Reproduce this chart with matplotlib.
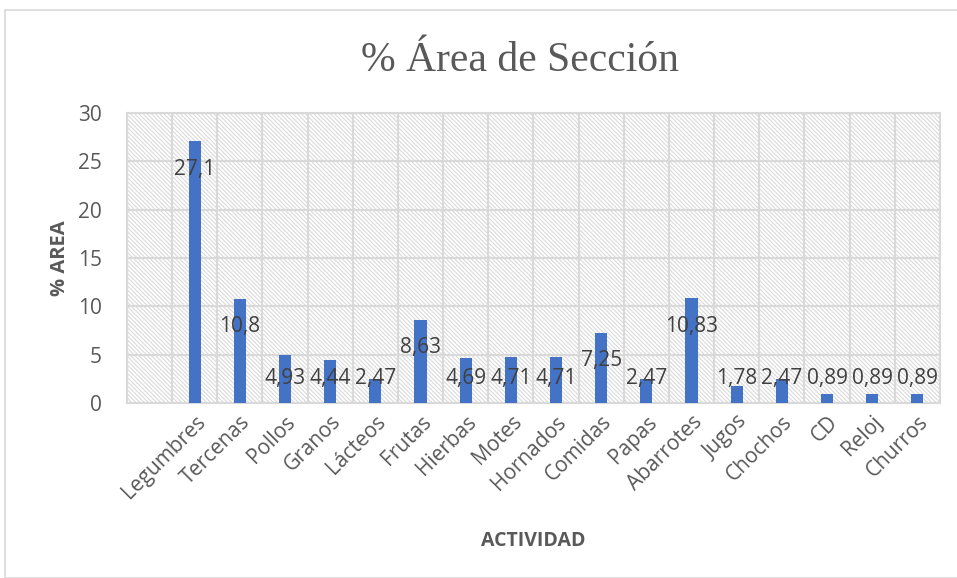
import matplotlib.pyplot as plt
from matplotlib.patches import Rectangle

categorias = ['Legumbres', 'Tercenas', 'Pollos', 'Granos', 'Lácteos', 'Frutas',
              'Hierbas', 'Motes', 'Hornados', 'Comidas', 'Papas', 'Abarrotes',
              'Jugos', 'Chochos', 'CD', 'Reloj', 'Churros']
valores = [27.1, 10.8, 4.93, 4.44, 2.47, 8.63, 4.69, 4.71, 4.71, 7.25, 2.47,
           10.83, 1.78, 2.47, 0.89, 0.89, 0.89]
etiquetas = ['27,1', '10,8', '4,93', '4,44', '2,47', '8,63', '4,69', '4,71',
             '4,71', '7,25', '2,47', '10,83', '1,78', '2,47', '0,89', '0,89', '0,89']
yticks = [0, 5, 10, 15, 20, 25, 30]

gris = '#595959'
plt.rcParams['font.family'] = ['Open Sans', 'DejaVu Sans']
plt.rcParams['hatch.linewidth'] = 0.8

fig = plt.figure(figsize=(9.57, 5.78), dpi=100)
# marco exterior del grafico
fig.patches.append(Rectangle((5 / 957, 0), 1, 1 - 10 / 578, transform=fig.transFigure,
                             fill=False, edgecolor='#d9d9d9', linewidth=1.2))

ax = fig.add_axes([0.1327, 0.3028, 0.8495, 0.5017])
ax.add_patch(Rectangle((0, 0), 1, 1, transform=ax.transAxes, facecolor='white',
                       edgecolor='#dadada', linewidth=0, hatch='\\' * 8, zorder=0))

x = list(range(len(categorias)))
ax.bar(x, valores, width=0.27, color='#4472c4', zorder=3)

for xi, v, t in zip(x, valores, etiquetas):
    ax.text(xi, max(v - 2.9, 2.5), t, ha='center', va='center',
            fontsize=15, color='#404040', zorder=4)

ax.set_xlim(-1.5, len(categorias) - 0.5)
ax.set_ylim(0, 30)
ax.set_yticks(yticks)
ax.set_xticks(x)
ax.set_xticks([i - 0.5 for i in range(-1, len(categorias) + 1)], minor=True)
ax.set_xticklabels(categorias, rotation=45, ha='right', rotation_mode='anchor',
                   fontsize=15, color=gris)
ax.tick_params(axis='y', labelsize=15, labelcolor=gris, length=0, pad=18)
ax.tick_params(axis='x', which='both', length=0, pad=6)

ax.grid(axis='y', color='#d9d9d9', linewidth=1.5, zorder=1)
ax.grid(axis='x', which='minor', color='#d9d9d9', linewidth=1.5, zorder=1)
for s in ax.spines.values():
    s.set_color('#d9d9d9')
    s.set_linewidth(1.5)

ax.set_xlabel('ACTIVIDAD', fontsize=14, fontweight='bold', color=gris, labelpad=20)
ax.set_ylabel('% AREA', fontsize=14.5, fontweight='bold', color=gris, labelpad=6)

fig.text(0.543, 0.895, '% Área de Sección', ha='center', va='center',
         fontsize=30, family='Liberation Serif', color=gris)

fig.savefig('out.png', dpi=100)
